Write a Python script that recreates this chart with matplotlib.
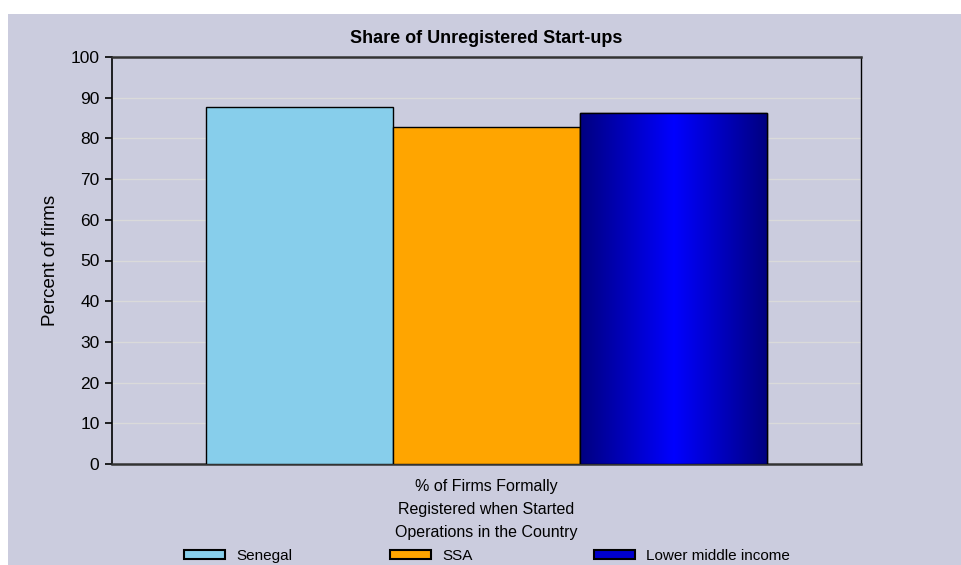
import matplotlib
matplotlib.use('Agg')
import matplotlib.pyplot as plt
import matplotlib.patches as mpatches
import numpy as np

# データ
categories = ['Senegal', 'SSA', 'Lower middle income']
values = [87.7, 82.8, 86.2]
group_label = '% of Firms Formally\nRegistered when Started\nOperations in the Country'
bar_colors = ['#87CEEB', '#FFA500', '#0000CD']

plt.rcParams['font.family'] = ['Liberation Sans Narrow', 'Liberation Sans', 'DejaVu Sans']

W, H = 962, 565
fig = plt.figure(figsize=(W / 100, H / 100), dpi=100, facecolor='white')

# 背景（左と上に白い余白）
bg = mpatches.Rectangle((8 / W, 0), 1 - 8 / W, 1 - 14 / H, transform=fig.transFigure,
                        facecolor='#CBCCDE', edgecolor='none', zorder=-10)
fig.patches.append(bg)

ax = fig.add_axes([112 / W, 1 - 464 / H, (861 - 112) / W, (464 - 57) / H])
ax.set_facecolor('#CBCCDE')

x = np.arange(len(categories)) - 1
bars = ax.bar(x, values, width=1.0, color=bar_colors, edgecolor='black', linewidth=1, zorder=3)

# 最後のバーにグラデーション
grad_bar = bars[2]
bx, by = grad_bar.get_x(), grad_bar.get_y()
bw, bh = grad_bar.get_width(), grad_bar.get_height()
t = np.linspace(-1, 1, 256)
intensity = 1 - np.abs(t)
rgb = np.zeros((1, 256, 3))
rgb[0, :, 2] = 0.5 + 0.5 * intensity
im = ax.imshow(rgb, extent=[bx, bx + bw, by, by + bh], aspect='auto', zorder=3.5)
im.set_clip_path(grad_bar)
ax.add_patch(mpatches.Rectangle((bx, by), bw, bh, facecolor='none', edgecolor='black',
                                linewidth=1, zorder=4))

ax.set_xlim(-2, 2)
ax.set_ylim(0, 100)
ax.set_yticks(range(0, 101, 10))
ax.set_xticks([0])
ax.set_xticklabels([group_label], fontsize=11.5, linespacing=1.65)
ax.tick_params(axis='x', length=0, pad=11)
ax.tick_params(axis='y', length=5, width=1.2, labelsize=12.5, pad=4)
ax.yaxis.grid(True, color='#DADADA', linewidth=1, zorder=0)
ax.set_axisbelow(True)

for side in ['top', 'bottom']:
    ax.spines[side].set_linewidth(1.8)
    ax.spines[side].set_color('#333333')
ax.spines['left'].set_linewidth(1.2)
ax.spines['right'].set_linewidth(1)

ax.set_ylabel('Percent of firms', fontsize=13.5, labelpad=8)
ax.set_title('Share of Unregistered Start-ups', fontsize=13, fontweight='bold', pad=10)

# 凡例（下端ぎりぎり）
legend_x = [184, 390, 594]
for i, name in enumerate(categories):
    h = mpatches.Patch(facecolor=bar_colors[i], edgecolor='black', linewidth=1.5)
    fig.legend([h], [name], loc='center left',
               bbox_to_anchor=(legend_x[i] / W, 1 - 556 / H),
               frameon=False, fontsize=11, handlelength=2.7, handleheight=0.6,
               handletextpad=0.7, borderpad=0, borderaxespad=0)

fig.savefig('out.png', dpi=100, facecolor=fig.get_facecolor())
